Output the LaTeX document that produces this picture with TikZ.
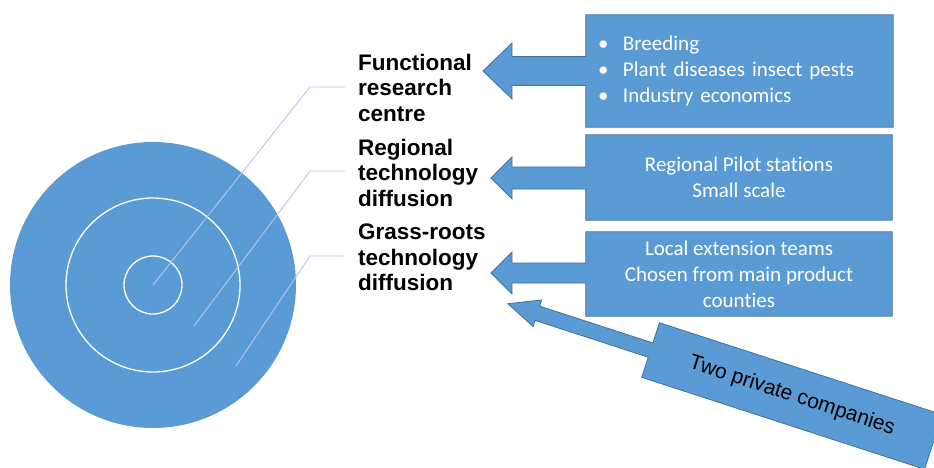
\documentclass[tikz,border=0pt]{standalone}
\usepackage{fontspec}
\setmainfont{Liberation Sans}
\newfontfamily\calibri[Ligatures=NoCommon]{Carlito}
\usetikzlibrary{positioning,backgrounds,calc}
\definecolor{ringblue}{RGB}{91,155,213}
\definecolor{rimblue}{RGB}{65,113,156}
\definecolor{leaderblue}{RGB}{180,199,231}

% box node, tip, head length, head half width, shaft half width
\newcommand{\leftcallout}[5]{%
  \draw[callout] (#1.north west) -- ($(#1.west |- #2)+(0,-#5)$)
    -- ($(#2)+(#3,-#5)$) -- ($(#2)+(#3,-#4)$) -- (#2)
    -- ($(#2)+(#3,#4)$) -- ($(#2)+(#3,#5)$) -- ($(#1.west |- #2)+(0,#5)$)
    -- (#1.south west) -- (#1.south east) -- (#1.north east) -- cycle;}

\begin{document}
\begin{tikzpicture}[x=1pt,y=-1pt,
  level/.style={anchor=west,inner sep=0pt,align=left,
    font=\fontsize{22.5}{25.5}\selectfont\bfseries},
  boxtext/.style={text=white,align=center,inner sep=0pt,
    font=\calibri\fontsize{21}{26}\selectfont},
  callout/.style={fill=ringblue,draw=rimblue,line width=0.8pt},
  leader/.style={leaderblue,line width=0.9pt,shorten >=13pt}]
  \useasboundingbox (0,0) rectangle (934,467);
  \def\Cx{153};
  \def\Cy{285};
  % rings
  \fill[ringblue] (\Cx,\Cy) circle (143pt);
  \draw[white,line width=1.3pt] (\Cx,\Cy) circle (87pt);
  \draw[white,line width=1.3pt] (\Cx,\Cy) circle (29pt);

  % levels
  \node[level] (func) at (358,87.5) {Functional\\research\\centre};
  \node[level] (regio) at (358,172.5) {Regional\\technology\\diffusion};
  \node[level] (grass) at (358,257.5) {Grass-roots\\technology\\diffusion};

  \coordinate (bendA) at (310,87);
  \coordinate (bendB) at (310,171);
  \coordinate (bendC) at (310,256);
  \draw[leader] (\Cx,\Cy) -- (bendA) -- (bendA -| func.west);
  \draw[leader] (194,326) -- (bendB) -- (bendB -| regio.west);
  \draw[leader] (236,366) -- (bendC) -- (bendC -| grass.west);

  % callout boxes
  \node[boxtext,minimum width=307pt,minimum height=112pt,text width=283pt,
    inner xsep=12pt,align=left] (breed) at (739.5,71)
    {\makebox[25pt][l]{•}Breeding\\
     \makebox[25pt][l]{•}Plant diseases insect pests\\
     \makebox[25pt][l]{•}Industry economics};
  \node[boxtext,minimum width=306pt,minimum height=85pt] (pilot) at (739,177.5)
    {Regional Pilot stations\\Small scale};
  \node[boxtext,minimum width=306pt,minimum height=84pt] (local) at (739,274)
    {Local extension teams\\Chosen from main product\\counties};
  \node[rotate=-18,minimum width=297pt,minimum height=57pt,inner sep=0pt,
    font=\fontsize{21}{25}\selectfont] (priv) at (792,396) {Two private companies};

  \coordinate (tipA) at (483,71);
  \coordinate (tipB) at (491,178);
  \coordinate (tipC) at (491,273);

  \begin{scope}[on background layer]
    \clip (0,0) rectangle (934,467);
    \leftcallout{breed}{tipA}{29}{28}{14.5}
    \leftcallout{pilot}{tipB}{21}{21}{11}
    \leftcallout{local}{tipC}{21}{21}{10}
    \begin{scope}[shift={(priv.west)},rotate=-18]
      \draw[callout] (priv.north west) -- (0,-7.5) -- (-119,-7.5) -- (-119,-14)
        -- (-150,0) -- (-119,14) -- (-119,7.5) -- (0,7.5) -- (priv.south west)
        -- (priv.south east) -- (priv.north east) -- cycle;
    \end{scope}
  \end{scope}
\end{tikzpicture}
\end{document}
